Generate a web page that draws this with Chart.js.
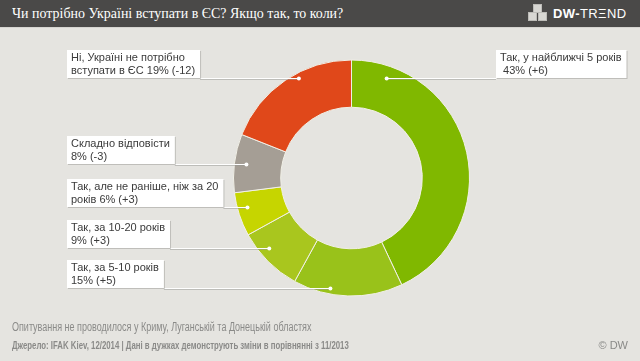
<!DOCTYPE html>
<html>
<head>
<meta charset="utf-8">
<script src="https://cdn.jsdelivr.net/npm/chart.js@4"></script>
<style>
  html, body { margin: 0; padding: 0; }
  body { width: 640px; height: 361px; background: #e5e4e0; position: relative; overflow: hidden; font-family: "Liberation Sans", Arial, sans-serif; }
  #header { position: absolute; left: 0; top: 0; width: 640px; height: 27px; background: #4a4948; border-bottom: 1px solid #d6d5d1; }
  #title { position: absolute; left: 12px; top: 4px; color: #fff; font-family: "Liberation Serif", serif; font-size: 15.5px; white-space: nowrap; transform: scaleX(0.9); transform-origin: left top; }
  #logo { position: absolute; left: 553px; top: 6px; color: #fff; font-weight: bold; font-size: 13px; letter-spacing: 0.4px; }
  #logo span { font-weight: normal; }
  .cube { position: absolute; background: #d8d7d3; width: 7px; height: 7px; border: 1px solid #bdbcb8; }
  #chartWrap { position: absolute; left: 0; top: 0; width: 640px; height: 361px; }
  #note { position: absolute; left: 12px; top: 320px; color: #8a8a88; font-size: 12.5px; white-space: nowrap; transform: scaleX(0.72); transform-origin: left top; }
  #source { position: absolute; left: 12px; top: 339px; color: #8a8a88; font-weight: bold; font-size: 11px; white-space: nowrap; transform: scaleX(0.71); transform-origin: left top; }
  #copy { position: absolute; right: 12px; top: 339px; color: #8a8a88; font-size: 11px; }
</style>
</head>
<body>
<div id="header">
  <div id="title">Чи потрібно Україні вступати в ЄС? Якщо так, то коли?</div>
  <div class="cube" style="left:533px;top:4px"></div>
  <div class="cube" style="left:528px;top:12px"></div>
  <div class="cube" style="left:538px;top:12px"></div>
  <div id="logo">DW-<span>TR&#926;ND</span></div>
</div>
<div id="chartWrap"><canvas id="donut" width="640" height="361"></canvas></div>
<div id="note">Опитування не проводилося у Криму, Луганській та Донецькій областях</div>
<div id="source">Джерело: IFAK Kiev, 12/2014 | Дані в дужках демонструють зміни в порівнянні з 11/2013</div>
<div id="copy">© DW</div>

<script>
// дані (за годинниковою стрілкою від верху)
const categories = [
  'Так, у найближчі 5 років',
  'Так, за 5-10 років',
  'Так, за 10-20 років',
  'Так, але не раніше, ніж за 20 років',
  'Складно відповісти',
  'Ні, Україні не потрібно вступати в ЄС'
];
const shares = [43, 15, 9, 6, 8, 19];
const changes = ['+6', '+5', '+3', '+3', '-3', '-12'];
const sliceColors = ['#80b800', '#99c21a', '#a9c61e', '#c6d500', '#a59e95', '#e0481a'];

// підписи: рядки тексту, позиція рамки, радіус точки
const labelLines = [
  ['Так, у найближчі 5 років', ' 43% (+6)'],
  ['Так, за 5-10 років', '15% (+5)'],
  ['Так, за 10-20 років', '9% (+3)'],
  ['Так, але не раніше, ніж за 20', 'років 6% (+3)'],
  ['Складно відповісти', '8% (-3)'],
  ['Ні, Україні не потрібно', 'вступати в ЄС 19% (-12)']
];
const labelLayout = [
  { side: 'right', x: 496, bottom: 78, r: 106 },
  { side: 'left', x: 67, bottom: 288, r: 112 },
  { side: 'left', x: 67, bottom: 248, r: 108 },
  { side: 'left', x: 67, bottom: 207, r: 108 },
  { side: 'left', x: 67, bottom: 164, r: 106 },
  { side: 'left', x: 67, bottom: 78, r: 113 }
];

const calloutPlugin = {
  id: 'callouts',
  afterDatasetsDraw(chart) {
    const ctx = chart.ctx;
    const arc = chart.getDatasetMeta(0).data[0];
    const cx = arc.x, cy = arc.y;
    ctx.save();
    ctx.font = '11px "Liberation Sans", Arial, sans-serif';
    labelLayout.forEach((l, i) => {
      const lines = labelLines[i];
      const w = Math.max(...lines.map(t => ctx.measureText(t).width)) + 9;
      const h = 28;
      const bx = l.x, by = l.bottom - h;
      const dy = l.bottom - cy;
      const dx = Math.sqrt(Math.max(l.r * l.r - dy * dy, 0));
      const px = l.side === 'left' ? cx - dx : cx + dx;
      // лінія-виноска
      ctx.strokeStyle = 'rgba(150,150,145,0.5)';
      ctx.lineWidth = 1;
      ctx.beginPath();
      if (l.side === 'left') { ctx.moveTo(bx + w, l.bottom + 1.5); ctx.lineTo(px, l.bottom + 1.5); }
      else { ctx.moveTo(px, l.bottom + 1.5); ctx.lineTo(bx, l.bottom + 1.5); }
      ctx.stroke();
      ctx.strokeStyle = '#ffffff';
      ctx.beginPath();
      if (l.side === 'left') { ctx.moveTo(bx + w, l.bottom + 0.5); ctx.lineTo(px, l.bottom + 0.5); }
      else { ctx.moveTo(px, l.bottom + 0.5); ctx.lineTo(bx, l.bottom + 0.5); }
      ctx.stroke();
      ctx.fillStyle = '#ffffff';
      ctx.beginPath();
      ctx.arc(px, l.bottom + 0.5, 2, 0, Math.PI * 2);
      ctx.fill();
      // рамка
      ctx.fillStyle = 'rgba(120,120,115,0.35)';
      ctx.fillRect(bx + 1, by + 1, w, h);
      ctx.fillStyle = '#ffffff';
      ctx.fillRect(bx, by, w, h);
      ctx.fillStyle = '#3a3a3a';
      ctx.textBaseline = 'middle';
      ctx.fillText(lines[0], bx + 4, by + 8);
      ctx.fillText(lines[1], bx + 4, by + 21);
    });
    ctx.restore();
  }
};

new Chart(document.getElementById('donut').getContext('2d'), {
  type: 'doughnut',
  data: {
    labels: categories,
    datasets: [{
      data: shares,
      backgroundColor: sliceColors,
      borderColor: '#f0efe6',
      borderWidth: 1
    }]
  },
  options: {
    responsive: false,
    animation: false,
    cutout: '60%',
    layout: { padding: { left: 233, right: 170, top: 59, bottom: 64 } },
    plugins: {
      legend: { display: false },
      tooltip: { enabled: false }
    }
  },
  plugins: [calloutPlugin]
});
</script>
</body>
</html>
